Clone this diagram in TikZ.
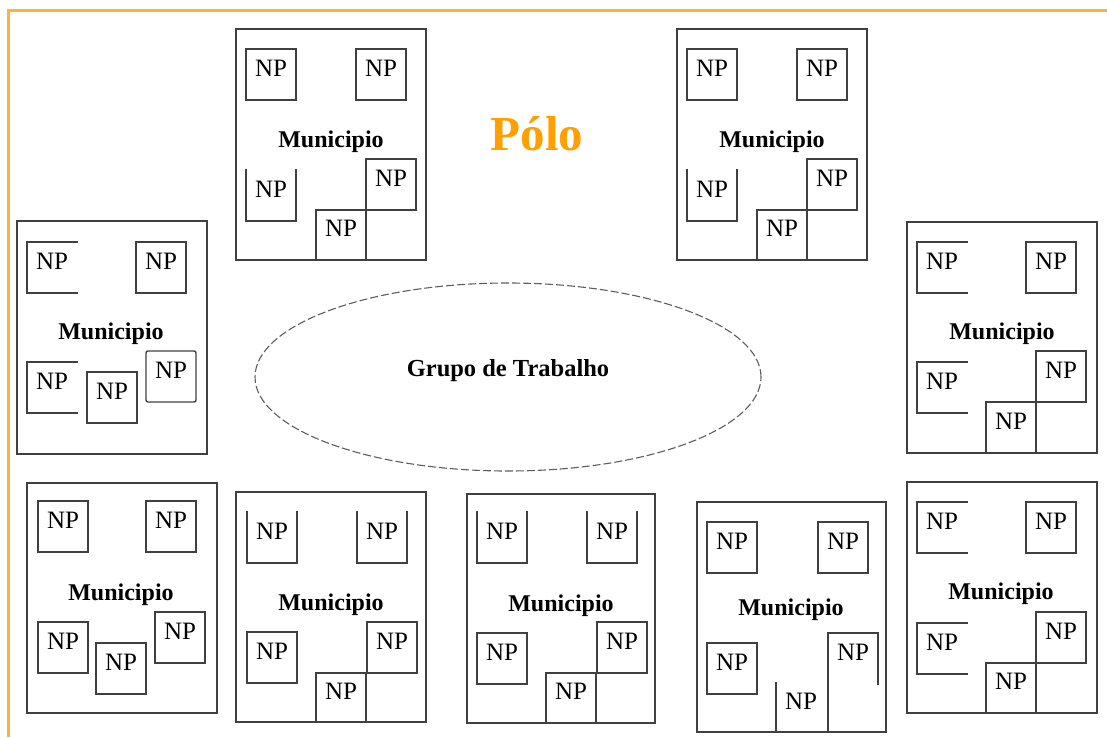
\documentclass[tikz,border=0pt]{standalone}
\usepackage{fontspec}
\setmainfont{Liberation Serif}
\definecolor{cinza}{HTML}{404040}
\definecolor{laranja}{HTML}{FFA000}
\definecolor{laranjaclaro}{HTML}{FFB040}
\usetikzlibrary{shapes.geometric}

\begin{document}
\begin{tikzpicture}[x=1pt, y=-1pt,
    mun/.style={rectangle, draw=cinza, line width=1.6pt, anchor=north west,
                minimum width=190pt, minimum height=231pt,
                inner sep=0pt, outer sep=0pt},
    munlbl/.style={anchor=base, font=\fontsize{24}{26}\selectfont\bfseries},
    np/.style={rectangle, draw=cinza, line width=1.4pt, anchor=north west,
               minimum width=50pt, minimum height=51pt,
               inner sep=0pt, outer sep=0pt,
               text height=16pt, text depth=13pt,
               font=\fontsize{25}{27}\selectfont},
    npline/.style={draw=cinza, line width=1.4pt, line cap=rect},
    opentop/.style={draw=none, append after command={
        (\tikzlastnode.north west) edge[npline] (\tikzlastnode.south west)
        (\tikzlastnode.south west) edge[npline] (\tikzlastnode.south east)
        (\tikzlastnode.south east) edge[npline] (\tikzlastnode.north east)}},
    openright/.style={draw=none, append after command={
        (\tikzlastnode.north east) edge[npline] (\tikzlastnode.north west)
        (\tikzlastnode.north west) edge[npline] (\tikzlastnode.south west)
        (\tikzlastnode.south west) edge[npline] (\tikzlastnode.south east)}},
    openbottom/.style={draw=none, append after command={
        (\tikzlastnode.south east) edge[npline] (\tikzlastnode.north east)
        (\tikzlastnode.north east) edge[npline] (\tikzlastnode.north west)}},
    grupo/.style={ellipse, draw=cinza!85, line width=1.1pt,
                  dash pattern=on 8pt off 3pt,
                  minimum width=506pt, minimum height=188pt,
                  text height=17pt, text depth=19pt,
                  font=\fontsize{24.5}{26}\selectfont\bfseries},
    polo/.style={anchor=base, text=laranja,
                 font=\fontsize{49}{52}\selectfont\bfseries},
    moldura/.style={draw=laranjaclaro, line width=3pt}
  ]
  \useasboundingbox (0,0) rectangle (1107,737);

  % orange frame
  \draw[moldura] (8,737) -- (8,10) -- (1107,10);

  \node[polo] (polo) at (537,150) {Pólo};
  \node[grupo] (gt) at (508,377) {Grupo de Trabalho};

  % Municipio A
  \begin{scope}[shift={(236,29)}]
    \node[mun] (a) at (0,0) {};
    \node[munlbl] (alab) at (95,118) {Municipio};
    \node[np] (a1) at (10,20) {NP};
    \node[np] (a2) at (120,20) {NP};
    \node[np, opentop] (a3) at (10,141) {NP};
    \node[np] (a4) at (130,130) {NP};
    \node[np, minimum height=50pt] (a5) at (80,181) {NP};
  \end{scope}

  % Municipio B
  \begin{scope}[shift={(677,29)}]
    \node[mun] (b) at (0,0) {};
    \node[munlbl] (blab) at (95,118) {Municipio};
    \node[np] (b1) at (10,20) {NP};
    \node[np] (b2) at (120,20) {NP};
    \node[np, opentop] (b3) at (10,141) {NP};
    \node[np] (b4) at (130,130) {NP};
    \node[np, minimum height=50pt] (b5) at (80,181) {NP};
  \end{scope}

  % Municipio C
  \begin{scope}[shift={(17,221)}]
    \node[mun, minimum height=233pt] (c) at (0,0) {};
    \node[munlbl] (clab) at (94,118) {Municipio};
    \node[np, openright] (c1) at (10,21) {NP};
    \node[np] (c2) at (119,21) {NP};
    \node[np, openright] (c3) at (10,141) {NP};
    \node[np] (c4) at (70,151) {NP};
    \node[np, rounded corners=2pt] (c5) at (129,130) {NP};
  \end{scope}

  % Municipio D
  \begin{scope}[shift={(907,222)}]
    \node[mun] (d) at (0,0) {};
    \node[munlbl] (dlab) at (95,117) {Municipio};
    \node[np, openright] (d1) at (10,20) {NP};
    \node[np] (d2) at (119,20) {NP};
    \node[np, openright] (d3) at (10,140) {NP};
    \node[np] (d4) at (129,129) {NP};
    \node[np, minimum height=51pt] (d5) at (79,180) {NP};
  \end{scope}

  % Municipio E
  \begin{scope}[shift={(27,483)}]
    \node[mun, minimum height=230pt] (e) at (0,0) {};
    \node[munlbl] (elab) at (94,117) {Municipio};
    \node[np] (e1) at (11,18) {NP};
    \node[np] (e2) at (119,18) {NP};
    \node[np] (e3) at (11,139) {NP};
    \node[np] (e4) at (69,160) {NP};
    \node[np] (e5) at (128,129) {NP};
  \end{scope}

  % Municipio F
  \begin{scope}[shift={(236,492)}]
    \node[mun, minimum height=230pt] (f) at (0,0) {};
    \node[munlbl] (flab) at (95,118) {Municipio};
    \node[np, opentop] (f1) at (11,20) {NP};
    \node[np, opentop] (f2) at (121,20) {NP};
    \node[np] (f3) at (11,140) {NP};
    \node[np] (f4) at (131,130) {NP};
    \node[np, minimum height=49pt] (f5) at (80,181) {NP};
  \end{scope}

  % Municipio G
  \begin{scope}[shift={(467,494)}]
    \node[mun, minimum width=188pt, minimum height=229pt] (g) at (0,0) {};
    \node[munlbl] (glab) at (94,117) {Municipio};
    \node[np, opentop] (g1) at (10,18) {NP};
    \node[np, opentop] (g2) at (120,18) {NP};
    \node[np] (g3) at (10,139) {NP};
    \node[np] (g4) at (130,128) {NP};
    \node[np, minimum height=50pt] (g5) at (79,179) {NP};
  \end{scope}

  % Municipio H
  \begin{scope}[shift={(697,502)}]
    \node[mun, minimum width=189pt, minimum height=230pt] (h) at (0,0) {};
    \node[munlbl] (hlab) at (94,113) {Municipio};
    \node[np] (h1) at (10,20) {NP};
    \node[np] (h2) at (121,20) {NP};
    \node[np] (h3) at (10,141) {NP};
    \node[np, openbottom] (h4) at (131,131) {NP};
    \node[np, draw=none, minimum height=49pt] (h5) at (79,181) {NP};
  \end{scope}
  \draw[npline] (h4.north west) -- (h4.north west |- h.south);
  \draw[npline] (h5.north west) -- (h5.north west |- h.south);

  % Municipio I
  \begin{scope}[shift={(907,482)}]
    \node[mun] (i) at (0,0) {};
    \node[munlbl] (ilab) at (94,117) {Municipio};
    \node[np, openright] (i1) at (10,20) {NP};
    \node[np] (i2) at (119,20) {NP};
    \node[np, openright] (i3) at (10,141) {NP};
    \node[np] (i4) at (129,130) {NP};
    \node[np, minimum height=50pt] (i5) at (79,181) {NP};
  \end{scope}
\end{tikzpicture}
\end{document}
